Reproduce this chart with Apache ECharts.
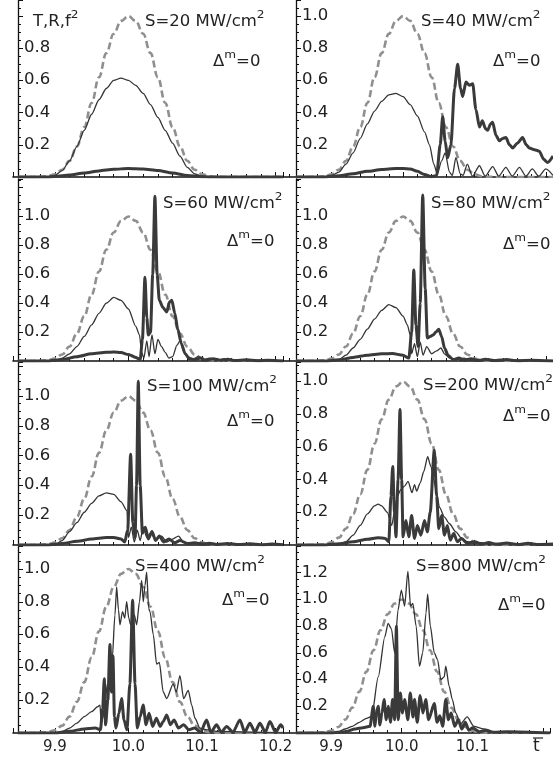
<!DOCTYPE html>
<html><head><meta charset="utf-8">
<script src="https://cdn.jsdelivr.net/npm/echarts@6/dist/echarts.min.js"></script>
<style>html,body{margin:0;padding:0;background:#fff}#c{width:553px;height:758px}</style>
</head><body><div id="c"></div>
<script>
// ---------- DATA ----------
// input pulse f^2 (dashed), same in every panel
const pulse = [[9.85,0],[9.87,0],[9.88,0.002],[9.89,0.005],[9.90,0.017],[9.91,0.045],[9.92,0.10],[9.93,0.19],[9.94,0.31],[9.95,0.46],[9.96,0.62],[9.97,0.77],[9.98,0.89],[9.99,0.97],[10.0,1.0],[10.01,0.97],[10.02,0.89],[10.03,0.77],[10.04,0.62],[10.05,0.46],[10.06,0.31],[10.07,0.19],[10.08,0.10],[10.09,0.045],[10.10,0.017],[10.11,0.005],[10.12,0.002],[10.13,0],[10.21,0]];

const T20 = [[9.85,0],[9.89,0],[9.90,0.01],[9.91,0.04],[9.92,0.1],[9.93,0.19],[9.94,0.29],[9.95,0.39],[9.96,0.48],[9.97,0.55],[9.98,0.6],[9.99,0.615],[10.0,0.6],[10.01,0.57],[10.02,0.52],[10.03,0.45],[10.04,0.37],[10.05,0.29],[10.06,0.21],[10.07,0.13],[10.08,0.06],[10.09,0.02],[10.10,0.005],[10.11,0],[10.21,0]];
const R20 = [[9.85,0],[9.89,0],[9.90,0.003],[9.92,0.012],[9.94,0.025],[9.96,0.038],[9.98,0.048],[10.0,0.053],[10.02,0.05],[10.04,0.04],[10.06,0.025],[10.08,0.01],[10.10,0.002],[10.11,0],[10.21,0]];

const T40 = [[9.85,0],[9.89,0],[9.90,0.01],[9.91,0.03],[9.92,0.08],[9.93,0.15],[9.94,0.24],[9.95,0.33],[9.96,0.41],[9.97,0.47],[9.98,0.51],[9.99,0.52],[10.0,0.5],[10.01,0.45],[10.02,0.38],[10.03,0.28],[10.037,0.2],[10.043,0.08],[10.048,0.02],[10.054,0.1],[10.059,0.15],[10.065,0.03],[10.069,0.01],[10.074,0.12],[10.08,0.02],[10.084,0.01],[10.09,0.08],[10.097,0.005],[10.107,0.07],[10.115,0.005],[10.1255,0.065],[10.134,0.005],[10.144,0.06],[10.153,0.005],[10.163,0.06],[10.172,0.005],[10.181,0.05],[10.19,0.005],[10.2,0.05],[10.21,0.01]];
const R40 = [[9.85,0],[9.89,0],[9.91,0.008],[9.93,0.02],[9.95,0.035],[9.97,0.047],[9.99,0.053],[10.0,0.053],[10.01,0.05],[10.02,0.035],[10.03,0.015],[10.04,0.002],[10.047,0.01],[10.052,0.2],[10.0555,0.375],[10.059,0.22],[10.0625,0.12],[10.067,0.2],[10.072,0.55],[10.0765,0.7],[10.0805,0.55],[10.0835,0.5],[10.088,0.59],[10.093,0.57],[10.0975,0.58],[10.102,0.42],[10.107,0.31],[10.111,0.35],[10.1155,0.3],[10.1185,0.29],[10.1225,0.33],[10.1255,0.34],[10.13,0.26],[10.1347,0.225],[10.1395,0.24],[10.1441,0.245],[10.149,0.2],[10.1535,0.18],[10.16,0.21],[10.1675,0.245],[10.1725,0.2],[10.1768,0.18],[10.184,0.17],[10.1908,0.16],[10.197,0.11],[10.2025,0.09],[10.21,0.13]];

const T60 = [[9.85,0],[9.90,0],[9.91,0.02],[9.92,0.05],[9.93,0.1],[9.94,0.17],[9.95,0.25],[9.96,0.33],[9.97,0.4],[9.98,0.44],[9.99,0.42],[10.0,0.36],[10.01,0.24],[10.015,0.18],[10.018,0.06],[10.021,0.02],[10.025,0.14],[10.028,0.03],[10.032,0.18],[10.036,0.05],[10.04,0.15],[10.045,0.1],[10.05,0.06],[10.055,0.02],[10.06,0.03],[10.066,0.11],[10.07,0.14],[10.075,0.07],[10.08,0.03],[10.088,0.015],[10.095,0.03],[10.102,0.01],[10.11,0.02],[10.12,0.005],[10.13,0.015],[10.14,0.005],[10.15,0.01],[10.21,0]];
const R60 = [[9.85,0],[9.89,0],[9.91,0.01],[9.93,0.03],[9.95,0.05],[9.97,0.06],[9.98,0.062],[9.99,0.058],[10.0,0.045],[10.01,0.025],[10.016,0.01],[10.019,0.15],[10.0225,0.58],[10.025,0.3],[10.027,0.18],[10.03,0.2],[10.033,0.6],[10.036,1.14],[10.039,0.6],[10.042,0.42],[10.047,0.37],[10.052,0.34],[10.056,0.41],[10.059,0.42],[10.063,0.33],[10.067,0.22],[10.072,0.12],[10.077,0.05],[10.083,0.015],[10.09,0.01],[10.098,0.02],[10.105,0.005],[10.115,0.015],[10.125,0.005],[10.135,0.012],[10.145,0.003],[10.16,0.008],[10.175,0.002],[10.19,0.005],[10.21,0]];

const T80 = [[9.85,0],[9.90,0],[9.91,0.01],[9.92,0.04],[9.93,0.09],[9.94,0.15],[9.95,0.22],[9.96,0.29],[9.97,0.35],[9.98,0.39],[9.99,0.37],[10.0,0.31],[10.006,0.25],[10.01,0.18],[10.012,0.05],[10.016,0.12],[10.02,0.03],[10.024,0.13],[10.028,0.04],[10.033,0.1],[10.04,0.05],[10.047,0.07],[10.053,0.09],[10.058,0.05],[10.065,0.02],[10.075,0.01],[10.085,0.02],[10.095,0.005],[10.11,0.01],[10.21,0]];
const R80 = [[9.85,0],[9.89,0],[9.91,0.008],[9.93,0.025],[9.95,0.04],[9.97,0.05],[9.985,0.052],[10.0,0.04],[10.008,0.02],[10.012,0.2],[10.015,0.63],[10.018,0.25],[10.021,0.1],[10.024,0.4],[10.0275,1.15],[10.031,0.5],[10.034,0.16],[10.038,0.17],[10.042,0.18],[10.046,0.2],[10.05,0.22],[10.054,0.17],[10.058,0.09],[10.063,0.04],[10.07,0.01],[10.078,0.02],[10.086,0.005],[10.095,0.015],[10.105,0.003],[10.115,0.012],[10.13,0.003],[10.145,0.01],[10.16,0.002],[10.18,0.006],[10.21,0]];

const T100 = [[9.85,0],[9.90,0],[9.91,0.03],[9.92,0.09],[9.93,0.15],[9.94,0.22],[9.95,0.28],[9.96,0.33],[9.97,0.35],[9.98,0.34],[9.99,0.29],[9.998,0.23],[10.0,0.05],[10.004,0.12],[10.008,0.02],[10.012,0.1],[10.016,0.03],[10.02,0.12],[10.025,0.05],[10.03,0.08],[10.037,0.04],[10.045,0.06],[10.052,0.02],[10.06,0.04],[10.068,0.06],[10.075,0.02],[10.085,0.01],[10.095,0.015],[10.11,0.005],[10.13,0.008],[10.15,0.002],[10.21,0]];
const R100 = [[9.85,0],[9.89,0],[9.91,0.01],[9.93,0.025],[9.95,0.04],[9.97,0.05],[9.98,0.05],[9.99,0.04],[9.995,0.02],[9.999,0.1],[10.003,0.61],[10.006,0.15],[10.009,0.05],[10.011,0.4],[10.0134,1.1],[10.016,0.4],[10.019,0.08],[10.023,0.12],[10.027,0.04],[10.032,0.09],[10.037,0.03],[10.042,0.06],[10.048,0.02],[10.055,0.04],[10.063,0.015],[10.07,0.03],[10.08,0.01],[10.09,0.015],[10.1,0.005],[10.11,0.012],[10.12,0.004],[10.135,0.01],[10.15,0.003],[10.165,0.008],[10.18,0.002],[10.195,0.006],[10.21,0.002]];

const T200 = [[9.85,0],[9.91,0],[9.92,0.02],[9.93,0.06],[9.94,0.12],[9.95,0.19],[9.96,0.24],[9.965,0.25],[9.97,0.24],[9.978,0.2],[9.984,0.12],[9.988,0.2],[9.992,0.3],[9.997,0.34],[10.002,0.36],[10.007,0.39],[10.0125,0.32],[10.016,0.37],[10.019,0.33],[10.024,0.38],[10.029,0.45],[10.0344,0.54],[10.039,0.48],[10.043,0.4],[10.047,0.32],[10.051,0.23],[10.058,0.17],[10.065,0.13],[10.074,0.08],[10.082,0.04],[10.09,0.02],[10.1,0.01],[10.11,0.015],[10.12,0.005],[10.13,0.01],[10.21,0]];
const R200 = [[9.85,0],[9.89,0],[9.91,0.008],[9.93,0.02],[9.95,0.035],[9.965,0.045],[9.975,0.04],[9.98,0.02],[9.983,0.3],[9.9855,0.48],[9.988,0.2],[9.99,0.05],[9.993,0.4],[9.9957,0.83],[9.998,0.4],[10.0,0.05],[10.004,0.15],[10.008,0.05],[10.012,0.18],[10.016,0.04],[10.02,0.12],[10.025,0.06],[10.03,0.15],[10.034,0.08],[10.038,0.2],[10.0437,0.58],[10.047,0.3],[10.05,0.1],[10.054,0.18],[10.058,0.06],[10.062,0.12],[10.066,0.03],[10.071,0.07],[10.076,0.02],[10.082,0.04],[10.09,0.01],[10.1,0.02],[10.11,0.005],[10.12,0.015],[10.13,0.004],[10.145,0.012],[10.16,0.003],[10.175,0.01],[10.19,0.003],[10.21,0.006]];

const T400 = [[9.85,0],[9.90,0],[9.91,0.01],[9.92,0.03],[9.93,0.06],[9.94,0.1],[9.95,0.13],[9.958,0.16],[9.9614,0.17],[9.963,0.06],[9.966,0.1],[9.969,0.3],[9.972,0.2],[9.975,0.5],[9.978,0.45],[9.9817,0.72],[9.984,0.89],[9.9865,0.75],[9.9885,0.66],[9.992,0.74],[9.995,0.7],[9.9976,0.8],[10.0005,0.7],[10.003,0.66],[10.008,0.72],[10.0112,0.66],[10.015,0.8],[10.018,0.93],[10.0202,0.8],[10.0225,0.9],[10.0248,0.98],[10.0275,0.76],[10.0293,0.74],[10.0338,0.6],[10.0383,0.42],[10.042,0.43],[10.0473,0.25],[10.0519,0.21],[10.0609,0.3],[10.065,0.25],[10.07,0.35],[10.075,0.21],[10.0813,0.26],[10.086,0.17],[10.0904,0.09],[10.0972,0.03],[10.105,0.02],[10.12,0.01],[10.21,0]];
const R400 = [[9.85,0],[9.9,0],[9.92,0.01],[9.94,0.025],[9.955,0.03],[9.962,0.02],[9.965,0.15],[9.9672,0.33],[9.969,0.05],[9.972,0.2],[9.9749,0.54],[9.977,0.25],[9.979,0.47],[9.981,0.1],[9.983,0.03],[9.987,0.12],[9.9908,0.21],[9.994,0.08],[9.998,0.02],[10.002,0.3],[10.0057,0.81],[10.009,0.3],[10.012,0.03],[10.016,0.1],[10.02,0.17],[10.024,0.05],[10.028,0.12],[10.033,0.04],[10.038,0.09],[10.043,0.04],[10.0473,0.07],[10.052,0.11],[10.057,0.05],[10.062,0.08],[10.068,0.03],[10.075,0.05],[10.082,0.02],[10.09,0.03],[10.098,0.005],[10.1062,0.08],[10.112,0.005],[10.1198,0.05],[10.126,0.005],[10.1334,0.04],[10.142,0.005],[10.1515,0.08],[10.158,0.005],[10.165,0.06],[10.172,0.005],[10.1786,0.06],[10.186,0.005],[10.1922,0.07],[10.2,0.005],[10.207,0.05],[10.21,0.03]];

const T800 = [[9.85,0],[9.90,0],[9.91,0.01],[9.92,0.03],[9.93,0.05],[9.94,0.08],[9.95,0.11],[9.9574,0.125],[9.9667,0.42],[9.976,0.72],[9.9807,0.82],[9.9854,0.78],[9.99,0.6],[9.9947,0.92],[9.9994,1.07],[10.0041,0.95],[10.0087,1.21],[10.0125,0.95],[10.0157,0.97],[10.0204,0.8],[10.0251,0.5],[10.0297,0.6],[10.0344,0.9],[10.0367,1.04],[10.0405,0.8],[10.0461,0.6],[10.0507,0.55],[10.0554,0.4],[10.0601,0.42],[10.0624,0.5],[10.0671,0.35],[10.0717,0.25],[10.0764,0.15],[10.0834,0.07],[10.0927,0.12],[10.1021,0.05],[10.1161,0.03],[10.13,0.01],[10.21,0]];
const R800 = [[9.85,0],[9.9,0],[9.92,0.01],[9.934,0.03],[9.945,0.04],[9.955,0.05],[9.9597,0.2],[9.962,0.05],[9.964,0.15],[9.9667,0.2],[9.969,0.06],[9.972,0.15],[9.975,0.25],[9.978,0.1],[9.981,0.2],[9.984,0.08],[9.987,0.25],[9.99,0.1],[9.9924,0.8],[9.995,0.1],[9.998,0.3],[10.001,0.15],[10.004,0.25],[10.0087,0.1],[10.012,0.3],[10.016,0.12],[10.0181,0.25],[10.022,0.08],[10.026,0.28],[10.03,0.15],[10.034,0.25],[10.038,0.1],[10.0461,0.22],[10.05,0.08],[10.054,0.13],[10.058,0.05],[10.0624,0.25],[10.066,0.1],[10.07,0.15],[10.075,0.05],[10.08,0.1],[10.085,0.03],[10.09,0.08],[10.095,0.02],[10.1,0.04],[10.11,0.01],[10.12,0.02],[10.13,0.005],[10.15,0.01],[10.21,0]];

const intensities = ['20','40','60','80','100','200','400','800'];
const thinSeries = [T20,T40,T60,T80,T100,T200,T400,T800];
const thickSeries = [R20,R40,R60,R80,R100,R200,R400,R800];
const yTickLabels = [
  ['0.2','0.4','0.6','0.8'],
  ['0.2','0.4','0.6','0.8','1.0'],
  ['0.2','0.4','0.6','0.8','1.0'],
  ['0.2','0.4','0.6','0.8','1.0'],
  ['0.2','0.4','0.6','0.8','1.0'],
  ['0.2','0.4','0.6','0.8','1.0'],
  ['0.2','0.4','0.6','0.8','1.0'],
  ['0.2','0.4','0.6','0.8','1.0','1.2']
];
const xTickLabelsLeft = ['9.9','10.0','10.1','10.2'];
const xTickLabelsRight = ['9.9','10.0','10.1'];
const yAxisTitle = 'T,R,f';
const xAxisTitle = 't';
const deltaText = '=0';

// ---------- LAYOUT ----------
const FONT = 'DejaVu Sans';
const cols = [
  {left: 13, width: 270, xmin: 9.8432, yOff: -5},
  {left: 283, width: 270, xmin: 9.8318, yOff: -13}
];
const rows = [
  {top: 0, height: 177, ymax: [1.1, 1.1]},
  {top: 179, height: 182, ymax: [1.26, 1.26]},
  {top: 362, height: 183, ymax: [1.23, 1.12]},
  {top: 546, height: 187, ymax: [1.14, 1.40]}
];
const sPos = [[145,10],[421,10],[163,192],[431,192],[147,374.5],[423,374],[135,554.5],[416,554.5]];
const dPos = [[213,49.5],[493,49.5],[227,229.5],[503,233],[227,409.5],[503,404.5],[222,589],[498,593.5]];

const grid = [], xAxis = [], yAxis = [], series = [], graphic = [];
const ink = '#111';
function fmt(list) {
  return function (v) {
    const k = Math.round(v * 10);
    if (Math.abs(v * 10 - k) > 1e-6) return '';
    const s = (k / 10).toFixed(1);
    return list.indexOf(s) >= 0 ? s : '';
  };
}
const rich = {
  a: {fontFamily: FONT, fontSize: 15, lineHeight: 20, verticalAlign: 'bottom', fill: '#222'},
  s: {fontFamily: FONT, fontSize: 11, lineHeight: 12, verticalAlign: 'top', fill: '#222'}
};
for (let i = 0; i < 8; i++) {
  const r = Math.floor(i / 2), c = i % 2;
  const col = cols[c], row = rows[r];
  grid.push({left: col.left, top: row.top, width: col.width, height: row.height, containLabel: false});
  const bottom = r === 3;
  const xl = c === 0 ? xTickLabelsLeft : xTickLabelsRight;
  xAxis.push({
    type: 'value', gridIndex: i, min: col.xmin, max: 10.21, splitNumber: 4,
    axisLine: {show: true, onZero: false, lineStyle: {color: ink, width: 1.6}},
    axisTick: {show: true, inside: true, length: 5, lineStyle: {color: ink, width: 1}},
    minorTick: {show: true, splitNumber: 5, length: 3, lineStyle: {color: ink, width: 1}},
    splitLine: {show: false},
    axisLabel: {
      show: bottom, margin: 7, fontFamily: FONT, fontSize: 15, color: '#222', hideOverlap: false,
      formatter: fmt(xl)
    }
  });
  yAxis.push({
    type: 'value', gridIndex: i, min: 0, max: row.ymax[c], interval: 0.2, offset: col.yOff,
    axisLine: {show: true, lineStyle: {color: ink, width: 1.3}},
    axisTick: {show: true, inside: true, length: 5, lineStyle: {color: ink, width: 1}},
    minorTick: {show: true, splitNumber: 4, length: 3, lineStyle: {color: ink, width: 1}},
    splitLine: {show: false},
    axisLabel: {show: false}
  });
  series.push({
    type: 'line', xAxisIndex: i, yAxisIndex: i, data: pulse, showSymbol: false, silent: true,
    smooth: 0.4, smoothMonotone: 'x', z: 2,
    lineStyle: {color: '#8f8f8f', width: 2.6, type: [7, 3.5]}
  });
  series.push({
    type: 'line', xAxisIndex: i, yAxisIndex: i, data: thinSeries[i], showSymbol: false, silent: true,
    smooth: 0.25, smoothMonotone: 'x', z: 3,
    lineStyle: {color: '#333', width: 1.3}
  });
  series.push({
    type: 'line', xAxisIndex: i, yAxisIndex: i, data: thickSeries[i], showSymbol: false, silent: true,
    smooth: 0.25, smoothMonotone: 'x', z: 4,
    lineStyle: {color: '#3a3a3a', width: 3}
  });
  graphic.push({
    type: 'text', x: sPos[i][0], y: sPos[i][1], scaleX: 1.1, z: 10,
    style: {text: '{a|S=' + intensities[i] + ' MW/cm}{s|2}', rich: rich, verticalAlign: 'top', align: 'left'}
  });
  graphic.push({
    type: 'text', x: dPos[i][0], y: dPos[i][1], scaleX: 1.1, z: 10,
    style: {text: '{a|\u0394}{s|m}{a|' + deltaText + '}', rich: rich, verticalAlign: 'top', align: 'left'}
  });
  if (i === 0) {
    graphic.push({
      type: 'text', x: 33, y: 9.5, scaleX: 1.1, z: 10,
      style: {text: '{a|' + yAxisTitle + '}{s|2}', rich: rich, verticalAlign: 'top', align: 'left'}
    });
  }
}
// axis title t with an overbar
graphic.push({
  type: 'text', x: 533, y: 738, z: 10,
  style: {text: xAxisTitle, fontFamily: FONT, fontSize: 17, fill: '#222', verticalAlign: 'top', align: 'left'}
});
graphic.push({
  type: 'line', z: 10, shape: {x1: 533, y1: 738, x2: 543, y2: 738},
  style: {stroke: '#222', lineWidth: 1.2}
});

const chart = echarts.init(document.getElementById('c'), null, {renderer: 'canvas'});
chart.setOption({animation: false, backgroundColor: '#fff', grid, xAxis, yAxis, series, graphic});

// y tick labels, placed inside (right of) each y axis through the axis scales
const tickText = [];
for (let i = 0; i < 8; i++) {
  const ax = chart.convertToPixel({xAxisIndex: i}, 9.85);
  yTickLabels[i].forEach(function (lab) {
    const py = chart.convertToPixel({yAxisIndex: i}, parseFloat(lab));
    tickText.push({
      type: 'text', x: ax + 6, y: py, scaleX: 1.1, z: 9,
      style: {text: lab, fontFamily: FONT, fontSize: 15, fill: '#222', verticalAlign: 'middle', align: 'left'}
    });
  });
}
chart.setOption({graphic: graphic.concat(tickText)});
</script>
</body></html>
